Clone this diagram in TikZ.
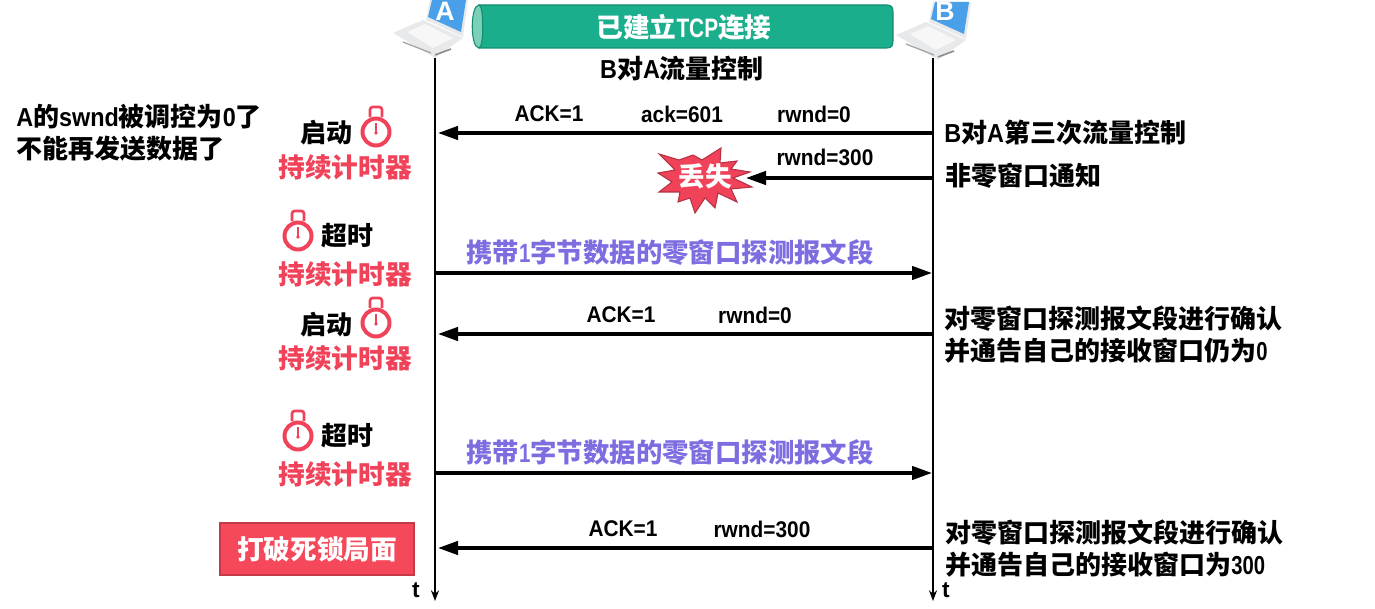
\documentclass[tikz,border=0pt]{standalone}
\usepackage{fontspec}
\usepackage{xcolor}
\setmainfont{Liberation Sans}
\newfontfamily\cjk{Noto Sans CJK SC}
\newcommand{\lat}[1]{\scalebox{0.9}[1]{\normalfont\bfseries #1}}
\newcommand{\nar}[1]{\scalebox{0.78}[1]{\normalfont\bfseries #1}}
\newcommand{\fld}[1]{\scalebox{0.92}[1]{\bfseries #1}}
\usetikzlibrary{arrows.meta}

\definecolor{teal1}{RGB}{26,174,140}
\definecolor{teal2}{RGB}{122,208,184}
\definecolor{redT}{RGB}{240,67,90}
\definecolor{redB}{RGB}{245,72,90}
\definecolor{purpleT}{RGB}{124,110,224}
\definecolor{screenC}{RGB}{74,160,232}
\definecolor{baseC}{RGB}{232,233,235}

\tikzset{
  every pic/.style={yscale=-1},
  life/.style={line width=1.6pt,-{Stealth[length=8pt,width=6pt]}},
  msg/.style={line width=2.5pt,-{Stealth[length=15pt,width=10pt,inset=0pt]}},
  head/.style={font=\cjk\bfseries\fontsize{19.5}{24}\selectfont,inner sep=0pt},
  side/.style={head,anchor=west,align=left},
  redlabel/.style={head,text=redT,font=\cjk\bfseries\fontsize{20}{24}\selectfont},
  probe/.style={head,text=purpleT,font=\cjk\bfseries\fontsize{19.8}{24}\selectfont},
  field/.style={font=\fontsize{17}{20}\selectfont,inner sep=0pt},
  stopwatch/.pic={
    \draw [redT,line width=3pt] (0,0) circle (13.5);
    \draw [redT,line width=2pt,rounded corners=2] (-6,-15) -- (-6,-25) -- (6,-25) -- (6,-15);
    \draw [redT,line width=1pt] (0,-9) -- (0,1);
    \fill [redT] (0,1) circle (1.8);
  },
  laptop/.pic={
    \fill [baseC] (-42,33) -- (-12,20) -- (28,38) -- (0,58) -- cycle;
    \fill [baseC] (-5,0) -- (33,0) -- (28,37) -- (-9,20) -- cycle;
    \fill [screenC] (-3,0) -- (31,0) -- (26,32) -- (-7,17) -- cycle;
    \draw [gray!70,line width=1pt] (-32,42) -- (-4,53);
    \draw [gray!90,line width=1.2pt] (0,55) -- (16,49);
    \fill [white!97!black] (-28,32) -- (-10,24) -- (18,38) -- (-2,48) -- cycle;
  }
}

\begin{document}
\begin{tikzpicture}[x=0.75pt,y=0.75pt,yscale=-1,xscale=1]
\useasboundingbox (0,0) rectangle (1375,609);

%Laptops
\path (435,0) pic {laptop};
\path (938,2) pic {laptop};
\node (labelA) at (445,11) [font=\bfseries\fontsize{20}{22}\selectfont,text=white,inner sep=0pt] {A};
\node (labelB) at (945,11) [font=\bfseries\fontsize{20}{22}\selectfont,text=white,inner sep=0pt] {B};

%Connection tube
\draw [teal1!80!black,fill=teal1,line width=0.8pt] (479,5) -- (887,5) .. controls (892,5) and (893,8) .. (893,12) -- (893,41) .. controls (893,45) and (892,48) .. (887,48) -- (479,48) -- cycle;
\draw [teal1!80!black,fill=teal2,line width=0.8pt] (479,5) .. controls (470,5) and (470,48) .. (479,48) .. controls (484,48) and (484,5) .. (479,5) -- cycle;
\node (tube) at (684,27) [head,text=white,font=\cjk\bfseries\fontsize{20}{24}\selectfont] {已建立\nar{TCP}连接};
\node (flowTitle) at (682,69) [head] {\lat{B}对\lat{A}流量控制};

%Lifelines
\coordinate (topA) at (435,58);
\coordinate (botA) at (435,601);
\coordinate (topB) at (933,58);
\coordinate (botB) at (933,601);
\draw [life] (topA) -- (botA);
\draw [life] (topB) -- (botB);
\node (tA) at (416,590) [field,font=\bfseries\fontsize{17}{20}\selectfont] {t};
\node (tB) at (946,590) [field,font=\bfseries\fontsize{17}{20}\selectfont] {t};

%Arrow ends
\coordinate (a1) at (438,133);
\coordinate (b1) at (932,133);
\coordinate (b2) at (932,178);
\coordinate (a3) at (436,273);
\coordinate (b3) at (932,273);
\coordinate (a4) at (438,334);
\coordinate (b4) at (932,334);
\coordinate (a5) at (436,473);
\coordinate (b5) at (932,473);
\coordinate (a6) at (438,548);
\coordinate (b6) at (932,548);
\coordinate (lostTip) at (746,178);

%Lost burst
\draw [redT!75!black,fill=redT,line width=0.8pt] (659,154) -- (679,160) -- (693,155) -- (702,160) -- (721,148) -- (720,163) -- (737,161) -- (731,169) -- (750,172) -- (733,178) -- (752,187) -- (731,189) -- (737,202) -- (718,193) -- (715,208) -- (705,198) -- (695,213) -- (690,198) -- (678,202) -- (680,192) -- (659,192) -- (672,182) -- (658,173) -- (675,170) -- cycle;
\node (lost) at (705,176) [head,text=white,font=\cjk\bfseries\fontsize{20}{24}\selectfont] {丢失};

%Messages
\draw [msg] (b1) -- (a1);
\draw [msg] (b2) -- (lostTip);
\draw [msg] (a3) -- (b3);
\draw [msg] (b4) -- (a4);
\draw [msg] (a5) -- (b5);
\draw [msg] (b6) -- (a6);

% Text Node
\node (ack1) at (549,114) [field] {\fld{ACK=1}};
\node (ackNo) at (682,114) [field] {\fld{ack=601}};
\node (rwnd1) at (814,114) [field] {\fld{rwnd=0}};
\node (rwnd2) at (825,157) [field] {\fld{rwnd=300}};
\node (probe1) at (670,252) [probe] {携带\nar{1}字节数据的零窗口探测报文段};
\node (ack4) at (621,315) [field] {\fld{ACK=1}};
\node (rwnd4) at (755,315) [field] {\fld{rwnd=0}};
\node (probe2) at (670,452) [probe] {携带\nar{1}字节数据的零窗口探测报文段};
\node (ack6) at (623,529) [field] {\fld{ACK=1}};
\node (rwnd6) at (762,529) [field] {\fld{rwnd=300}};

% Left side
\node (swnd) at (16,133) [side] {\lat{A}的\lat{swnd}被调控为\lat{0}了\\不能再发送数据了};
\node (start1) at (326,133) [head] {启动};
\path (376,132) pic {stopwatch};
\node (timer1) at (345,167) [redlabel] {持续计时器};
\path (298,236) pic {stopwatch};
\node (out1) at (347,236) [head] {超时};
\node (timer2) at (345,274) [redlabel] {持续计时器};
\node (start2) at (326,325) [head] {启动};
\path (376,323) pic {stopwatch};
\node (timer3) at (345,358) [redlabel] {持续计时器};
\path (298,436) pic {stopwatch};
\node (out2) at (347,436) [head] {超时};
\node (timer4) at (345,474) [redlabel] {持续计时器};
\node (deadlock) at (317,549) [head,text=white,fill=redB,draw=redB!80!black,line width=0.8pt,minimum width=145.5pt,minimum height=39pt,font=\cjk\bfseries\fontsize{20}{24}\selectfont] {打破死锁局面};

% Right side
\node (third) at (944,133) [side] {\lat{B}对\lat{A}第三次流量控制};
\node (notice) at (945,176) [side] {非零窗口通知};
\node (confirm1) at (944,335) [side] {对零窗口探测报文段进行确认\\并通告自己的接收窗口仍为\nar{0}};
\node (confirm2) at (945,549) [side] {对零窗口探测报文段进行确认\\并通告自己的接收窗口为\nar{300}};

\end{tikzpicture}
\end{document}
